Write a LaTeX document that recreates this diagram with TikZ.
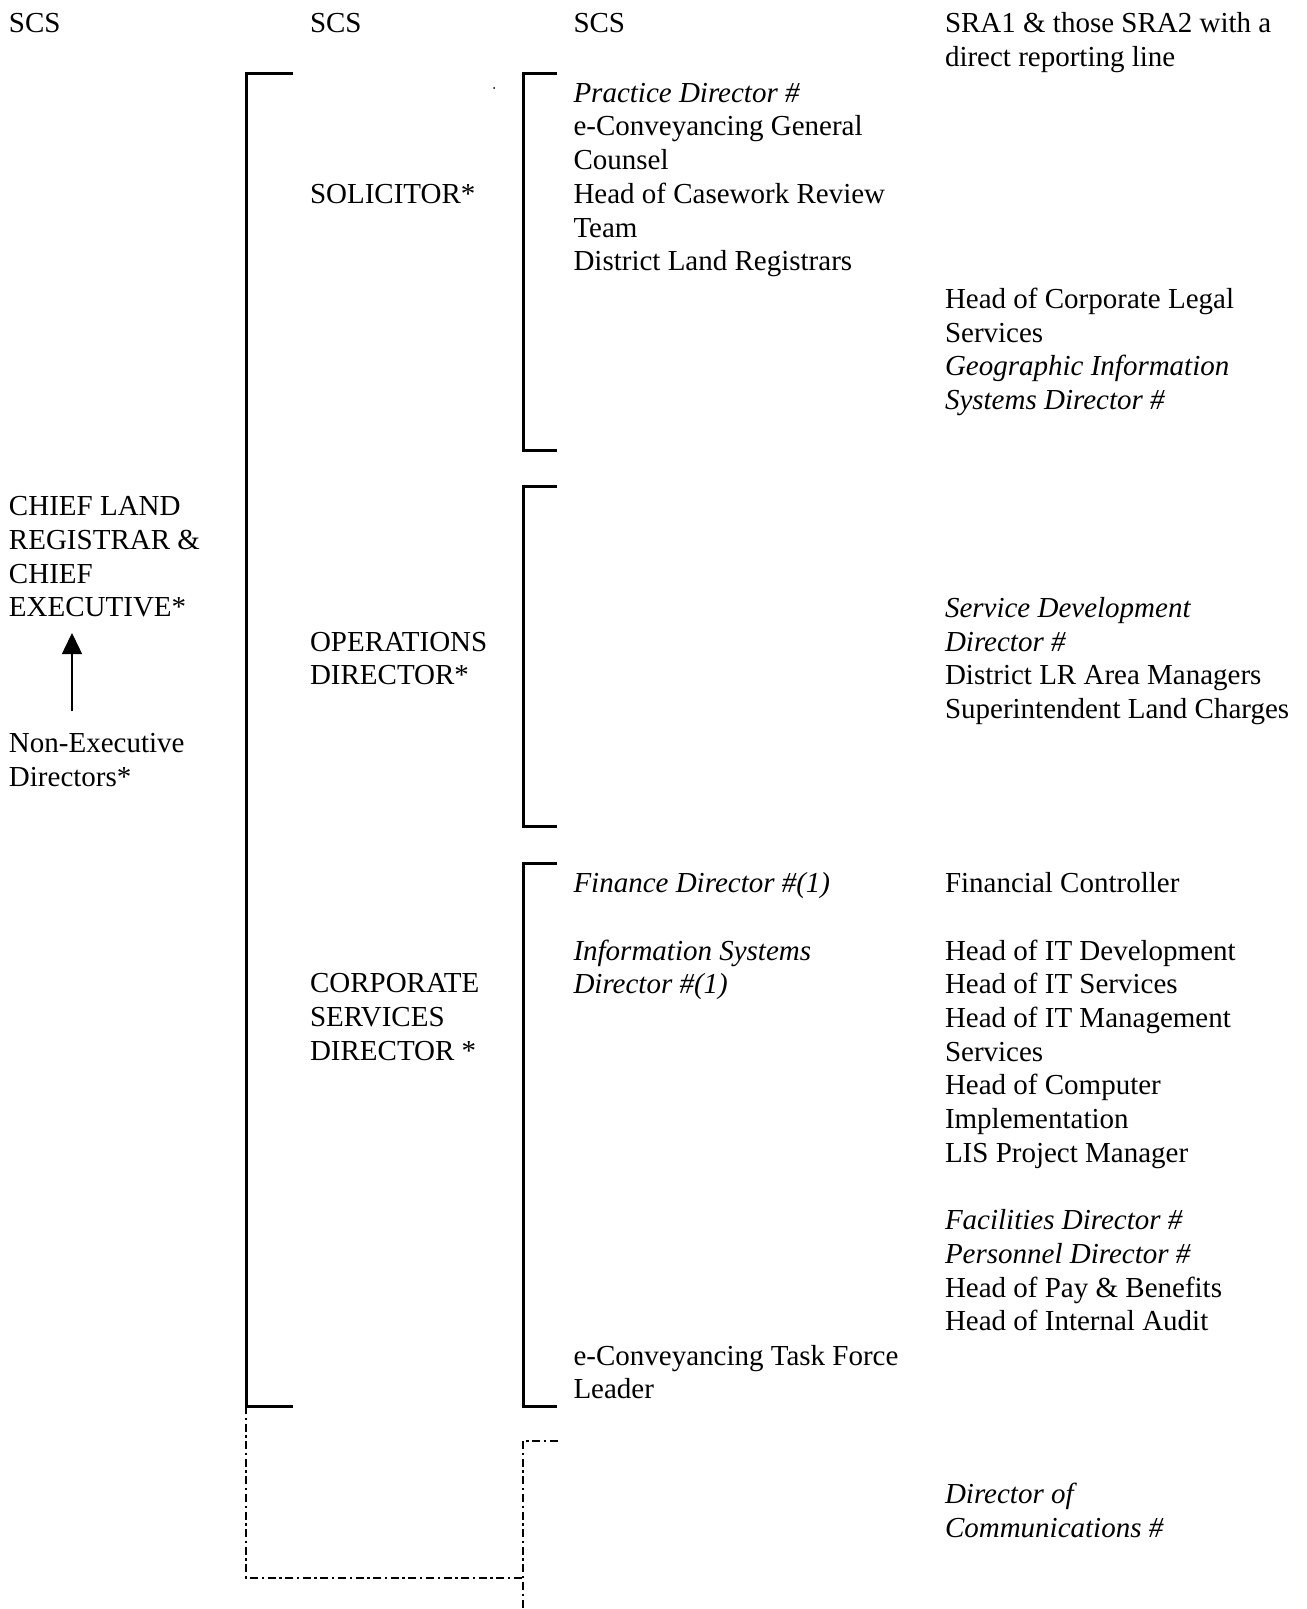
\documentclass[tikz,border=0pt]{standalone}
\usepackage{fontspec}
\setmainfont{Liberation Serif}
\usetikzlibrary{arrows.meta}
% stacked lines whose baseline is that of the first line
\newcommand{\mlines}[1]{\begin{tabular}[t]{@{}l@{}}#1\end{tabular}}
\begin{document}
\begin{tikzpicture}[x=0.5pt,y=-0.5pt,
  lbl/.style={anchor=base west, inner sep=0pt, outer sep=0pt,
              font=\fontsize{14.5pt}{16.85pt}\selectfont},
  brack/.style={line width=1.5pt},
  dashbrack/.style={line width=1.2pt, dash pattern=on 4pt off 1.8pt on 1.2pt off 1.8pt}]
\useasboundingbox (0,0) rectangle (1306,1609);

% column headings
\node[lbl] (h1) at (9,32.6) {SCS};
\node[lbl] (h2) at (310,32.6) {SCS};
\node[lbl] (h3) at (573.5,32.6) {SCS};
\node[lbl] (h4) at (945,32.6) {\mlines{SRA1 \& those SRA2 with a\\direct reporting line}};

% chief executive and non-executive directors
\node[lbl] (chief) at (9,515.8) {\mlines{CHIEF LAND\\REGISTRAR \&\\CHIEF\\EXECUTIVE*}};
\node[lbl] (nonexec) at (9,752.8) {\mlines{Non-Executive\\Directors*}};
\coordinate (arrtail) at (72,711);
\coordinate (arrtip) at (72,633);
\draw[line width=0.75pt, -{Triangle[length=10.5pt,width=10pt]}] (arrtail) -- (arrtip);

% directors
\node[lbl] (sol) at (310,203.9) {SOLICITOR*};
\node[lbl] (ops) at (310,651.2) {\mlines{OPERATIONS\\DIRECTOR*}};
\node[lbl] (corp) at (310,992.8) {\mlines{CORPORATE\\SERVICES\\DIRECTOR *}};

% solicitor group
\node[lbl] (solA) at (573.5,102.3) {\mlines{\textit{Practice Director \#}\\e-Conveyancing General\\Counsel\\Head of Casework Review\\Team\\District Land Registrars}};
\node[lbl] (solB) at (945,308.5) {\mlines{Head of Corporate Legal\\Services\\\textit{Geographic Information}\\\textit{Systems Director \#}}};

% operations group
\node[lbl] (opsB) at (945,617.3) {\mlines{\textit{Service Development}\\\textit{Director \#}\\District LR Area Managers\\Superintendent Land Charges}};

% corporate services group
\node[lbl] (fin) at (573.5,892.3) {\textit{Finance Director \#(1)}};
\node[lbl] (isd) at (573.5,960) {\mlines{\textit{Information Systems}\\\textit{Director \#(1)}}};
\node[lbl] (task) at (573.5,1365.2) {\mlines{e-Conveyancing Task Force\\Leader}};
\node[lbl] (fc) at (945,892.3) {Financial Controller};
\node[lbl] (it) at (945,960) {\mlines{Head of IT Development\\Head of IT Services\\Head of IT Management\\Services\\Head of Computer\\Implementation\\LIS Project Manager}};
\node[lbl] (fac) at (945,1229.8) {\mlines{\textit{Facilities Director \#}\\\textit{Personnel Director \#}\\Head of Pay \& Benefits\\Head of Internal Audit}};

% communications
\node[lbl] (comm) at (945,1503.7) {\mlines{\textit{Director of}\\\textit{Communications \#}}};

% solid brackets
\draw[brack] (293,74) -- (246,74) -- (246,1406) -- (293,1406);
\draw[brack] (557,74) -- (523,74) -- (523,450) -- (557,450);
\draw[brack] (557,486) -- (523,486) -- (523,826) -- (557,826);
\draw[brack] (557,863) -- (523,863) -- (523,1406) -- (557,1406);
\fill (494,88) circle (1);

% dashed brackets
\draw[dashbrack] (246,1406) -- (246,1578) -- (523,1578);
\draw[dashbrack] (558,1441) -- (523,1441) -- (523,1609);
\end{tikzpicture}
\end{document}
